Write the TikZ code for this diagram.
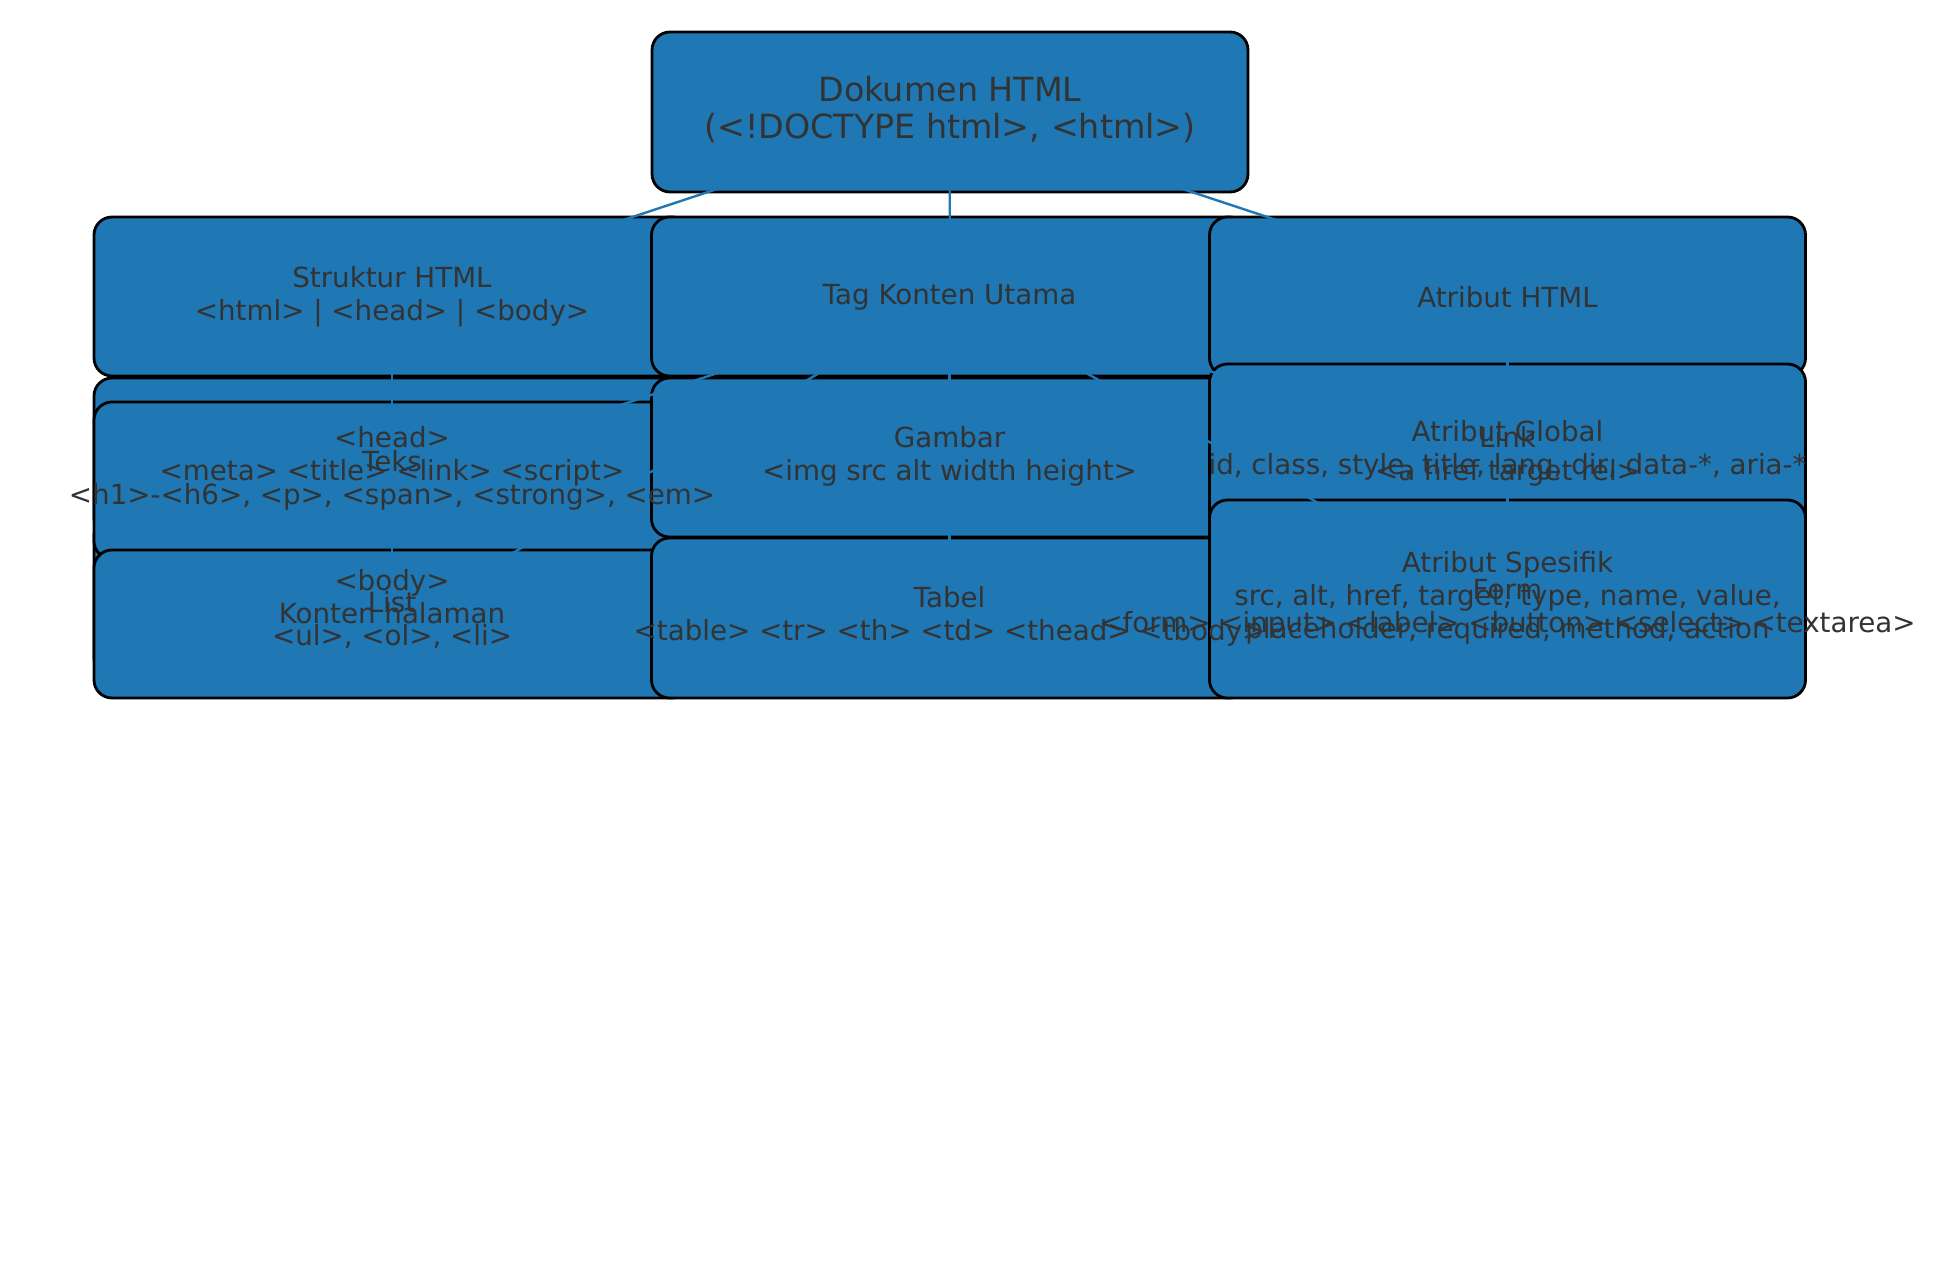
\documentclass[tikz,border=0pt]{standalone}
\usepackage{fontspec}
\setmainfont{DejaVu Sans}
\definecolor{boxblue}{HTML}{1F77B4}
\definecolor{txtgray}{HTML}{333333}
\begin{document}
\begin{tikzpicture}[x=0.5pt,y=-0.5pt,
  box/.style={draw=black, line width=1.4pt, fill=boxblue, rounded corners=9pt, inner sep=0pt, minimum width=298pt},
  edge/.style={draw=boxblue, line width=1.2pt},
  txt/.style={text=txtgray, align=center, inner sep=0pt, font=\fontsize{13.86}{16.5}\selectfont},
  ttl/.style={text=txtgray, align=center, inner sep=0pt, font=\fontsize{16.65}{18.5}\selectfont}]
\fill[white] (0,0) rectangle (1937,1272);
\useasboundingbox (0,0) rectangle (1937,1272);
% boxes
\node[box, minimum height=80pt] (doc) at (950,112) {};
\node[box, minimum height=79.5pt] (struk) at (392,296.5) {};
\node[box, minimum height=79.5pt] (tag) at (949.5,296.5) {};
\node[box, minimum height=79.5pt] (attr) at (1507.5,296.5) {};
\node[box, minimum height=79pt] (head) at (392,457) {};
\node[box, minimum height=79pt] (body) at (392,597) {};
\node[box, minimum height=78.5pt] (teks) at (392,480.5) {};
\node[box, minimum height=74pt] (list) at (392,624) {};
\node[box, minimum height=79.5pt] (gambar) at (949.5,457.5) {};
\node[box, minimum height=80pt] (tabel) at (949.5,618) {};
\node[box, minimum height=79.5pt] (link) at (1507.5,456.5) {};
\node[box, minimum height=86pt] (global) at (1507.5,450) {};
\node[box, minimum height=79pt] (form) at (1507.5,609) {};
\node[box, minimum height=99pt] (spes) at (1507.5,599) {};
% edges
\draw[edge] (doc.center) -- (struk.center);
\draw[edge] (doc.center) -- (tag.center);
\draw[edge] (doc.center) -- (attr.center);
\draw[edge] (struk.center) -- (head.center);
\draw[edge] (struk.center) -- (body.center);
\draw[edge] (tag.center) -- (teks.center);
\draw[edge] (tag.center) -- (gambar.center);
\draw[edge] (tag.center) -- (tabel.center);
\draw[edge] (tag.center) -- (list.center);
\draw[edge] (tag.center) -- (link.center);
\draw[edge] (tag.center) -- (form.center);
\draw[edge] (attr.center) -- (global.center);
\draw[edge] (attr.center) -- (spes.center);
% texts
\node[ttl] (t-doc) at (950,110) {Dokumen HTML\\(<!DOCTYPE html>, <html>)};
\node[txt] (t-struk) at (392,296.5) {Struktur HTML\\<html> | <head> | <body>};
\node[txt] (t-tag) at (949.5,297) {Tag Konten Utama};
\node[txt] (t-attr) at (1507.5,297) {Atribut HTML};
\node[txt] (t-head) at (392,456) {<head>\\<meta> <title> <link> <script>};
\node[txt] (t-teks) at (392,480) {Teks\\<h1>-<h6>, <p>, <span>, <strong>, <em>};
\node[txt] (t-body) at (392,597) {<body>\\Konten halaman};
\node[txt] (t-list) at (392,620.5) {List\\<ul>, <ol>, <li>};
\node[txt] (t-gambar) at (949.5,456) {Gambar\\<img src alt width height>};
\node[txt] (t-tabel) at (949.5,616) {Tabel\\<table> <tr> <th> <td> <thead> <tbody>};
\node[txt] (t-global) at (1507.5,450) {Atribut Global\\id, class, style, title, lang, dir, data-*, aria-*};
\node[txt] (t-link) at (1507.5,456.5) {Link\\<a href target rel>};
\node[txt] (t-spes) at (1507.5,597.5) {Atribut Spesifik\\src, alt, href, target, type, name, value,\\placeholder, required, method, action};
\node[txt] (t-form) at (1507.5,609) {Form\\<form> <input> <label> <button> <select> <textarea>};
\end{tikzpicture}
\end{document}
